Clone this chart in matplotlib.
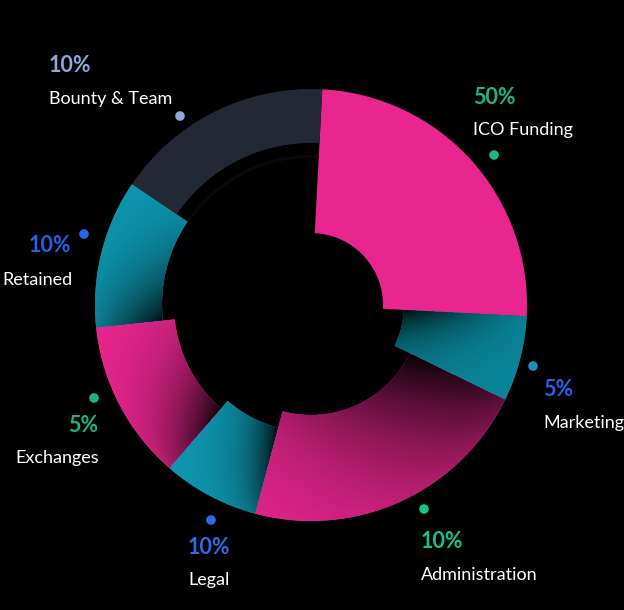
import numpy as np
import matplotlib
matplotlib.use('Agg')
import matplotlib.pyplot as plt
from matplotlib.patches import Wedge, Circle
from matplotlib.colors import to_rgb

# ---------------- data ----------------
categories = ['ICO Funding', 'Marketing', 'Administration', 'Legal',
              'Exchanges', 'Retained', 'Bounty & Team']
percent_labels = ['50%', '5%', '10%', '10%', '5%', '10%', '10%']
spans = [90, 23, 79, 26, 43, 40, 59]          # slice sizes (degrees), clockwise
inner_radii = [72, 93, 110, 127, 137, 149, 162]

# ---------------- styles ----------------
seg_colors = ['#E9268F', '#0A8599', '#E9268F', '#0E97AF', '#E9268F', '#0E97B0', '#222834']
pct_colors = ['#1BB586', '#2563EB', '#13C48E', '#2D6BEA', '#1DB386', '#2563EB', '#8FA8DC']
dot_colors = ['#1BB586', '#1B8DBE', '#13C48E', '#2D6BEA', '#1DB386', '#2563EB', '#8FA8DC']
# shadow params: strength, decay length (px), radial low weight, radial exponent
shadow = [(0, 1, 0, 1), (0.92, 32, 0.05, 1.3), (0.96, 120, 0.6, 0.6), (0.92, 28, 0.3, 0.8),
          (0.92, 55, 0.25, 0.8), (0.88, 55, 0.2, 1.0), (0, 1, 0, 1)]

W, H = 624, 610
cx, cy = 311, 305
R = 216
start_angle = 87

# label layout (image coordinates, y down): dot, pct text, name text, alignment
layout = [
    ((494, 155), (473, 97), (473, 130), 'left'),
    ((533, 366), (543, 390), (543, 423), 'left'),
    ((424, 509), (421, 542), (421, 575), 'left'),
    ((211, 520), (188, 548), (188, 580), 'left'),
    ((94, 398), (98, 425), (99, 458), 'right'),
    ((84, 234), (71, 246), (72, 280), 'right'),
    ((180, 116), (49, 65), (49, 99), 'left'),
]

fig = plt.figure(figsize=(W / 100, H / 100), dpi=100, facecolor='black')
ax = fig.add_axes([0, 0, 1, 1])
ax.set_xlim(0, W)
ax.set_ylim(0, H)
ax.set_facecolor('black')
ax.axis('off')

xs = np.arange(W) + 0.5
ys = np.arange(H) + 0.5
X, Y = np.meshgrid(xs, ys)
DX, DY = X - cx, Y - cy
Rr = np.hypot(DX, DY)
ANG = np.degrees(np.arctan2(DY, DX))

theta_hi = start_angle
for i, (span, rin) in enumerate(zip(spans, inner_radii)):
    theta2 = theta_hi
    theta1 = theta2 - span
    theta_hi = theta1
    base = np.array(to_rgb(seg_colors[i]))
    wedge = Wedge((cx, cy), R, theta1, theta2, width=R - rin,
                  facecolor=seg_colors[i], edgecolor='none', antialiased=True)
    ax.add_patch(wedge)
    A, L, lo, p = shadow[i]
    if A > 0:
        d = np.mod(theta2 - ANG, 360)
        s = Rr * np.radians(d)
        t = np.clip((R - Rr) / (R - rin), 0, 1)
        w = lo + (1 - lo) * t ** p
        f = 1 - A * np.exp(-s / L) * w
        img = np.clip(base[None, None, :] * f[..., None], 0, 1)
        im = ax.imshow(img, extent=(0, W, 0, H), origin='lower',
                       interpolation='bilinear', zorder=2)
        im.set_clip_path(wedge)

# faint shadow ring inside bounty segment
ax.add_patch(Wedge((cx, cy), 150, start_angle, start_angle + 59, width=3,
                   facecolor='#08090c', edgecolor='none', zorder=1))

font = 'Lato'
for i in range(len(categories)):
    (dx, dy), (px, py), (nx, ny), ha = layout[i]
    ax.add_patch(Circle((dx, H - dy), 4.8, facecolor=dot_colors[i],
                        edgecolor='none', zorder=3))
    ax.text(px, H - py, percent_labels[i], color=pct_colors[i], fontsize=15.5,
            fontweight='bold', family=font, ha=ha, va='center', zorder=4)
    ax.text(nx, H - ny, categories[i], color='white', fontsize=13,
            family=font, ha=ha, va='center', zorder=4)

fig.savefig('out.png', dpi=100, facecolor='black')
